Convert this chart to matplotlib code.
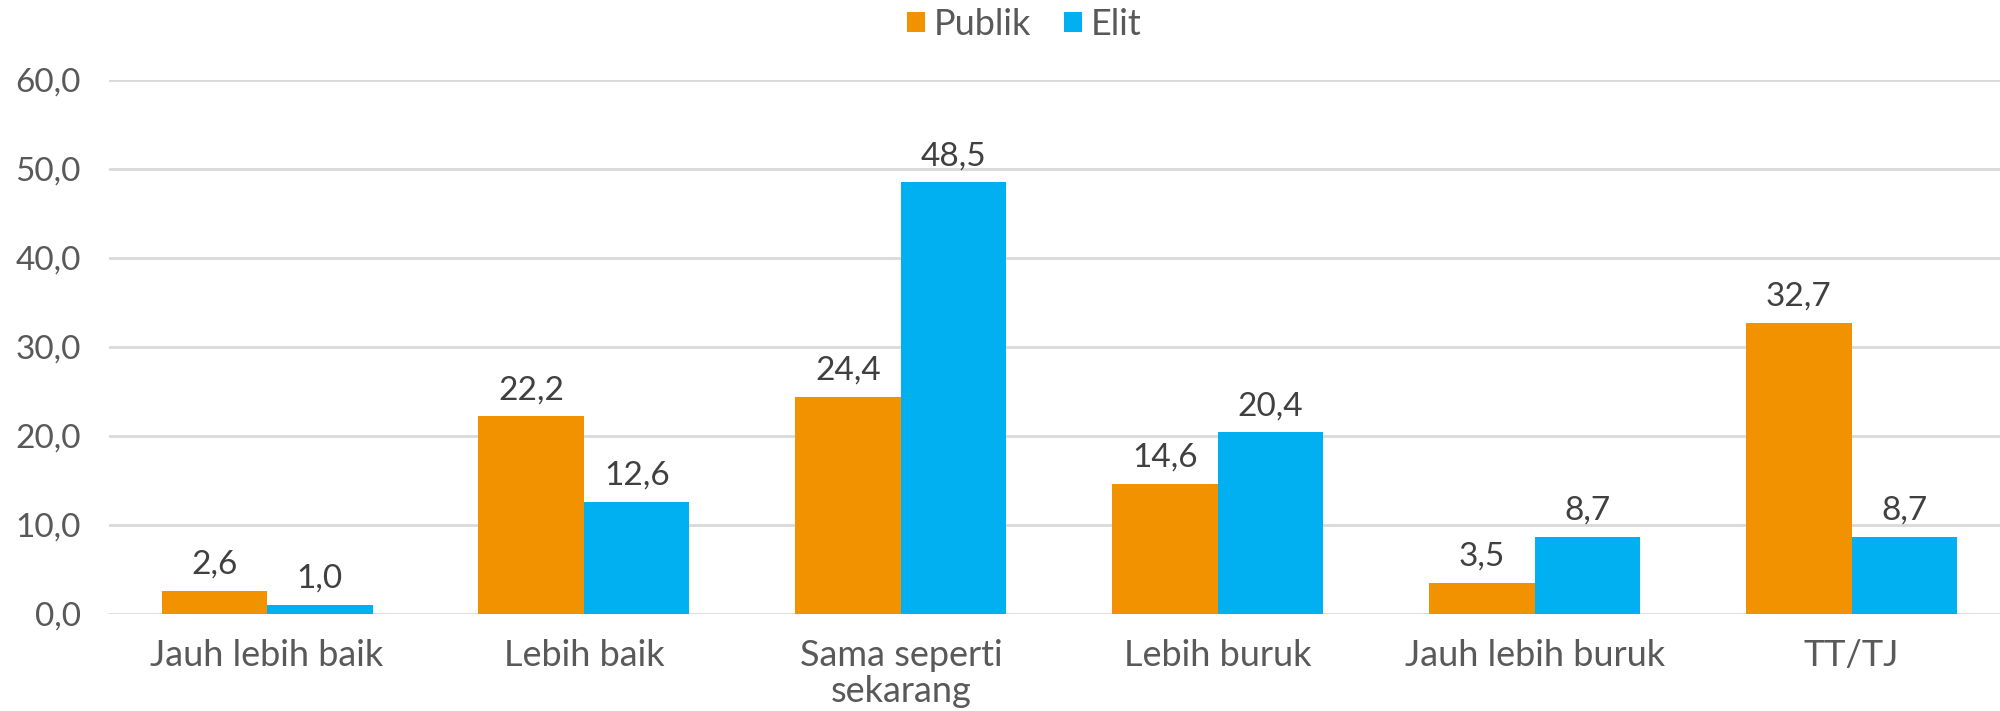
import matplotlib
matplotlib.use("Agg")
import matplotlib.pyplot as plt
import numpy as np

# Survey categories and percentages per respondent group
categories = ["Jauh lebih baik", "Lebih baik", "Sama seperti\nsekarang",
              "Lebih buruk", "Jauh lebih buruk", "TT/TJ"]
publik = [2.6, 22.2, 24.4, 14.6, 3.5, 32.7]
elit = [1.0, 12.6, 48.5, 20.4, 8.7, 8.7]
series_names = ["Publik", "Elit"]
y_ticks = [0, 10, 20, 30, 40, 50, 60]

ORANGE = "#F39200"
BLUE = "#00B0F0"
GRID = "#D9D9D9"
TEXT = "#595959"
LABEL = "#404040"
FS_NUM = 24
FS_TXT = 26

plt.rcParams["font.family"] = ["Lato", "DejaVu Sans"]

fig = plt.figure(figsize=(20, 7.11), dpi=100)
ax = fig.add_axes([0.0543, 0.1364, 0.9507, 0.7511])

x = np.arange(len(categories))
w = 0.333
bars_p = ax.bar(x - w / 2, publik, w, color=ORANGE, label=series_names[0], zorder=3)
bars_e = ax.bar(x + w / 2, elit, w, color=BLUE, label=series_names[1], zorder=3)

for bars, vals in ((bars_p, publik), (bars_e, elit)):
    for b, v in zip(bars, vals):
        ax.annotate(f"{v:.1f}".replace(".", ","),
                    (b.get_x() + b.get_width() / 2, v),
                    xytext=(0, 8), textcoords="offset points",
                    ha="center", va="bottom", fontsize=FS_NUM, color=LABEL)

ax.set_xlim(-0.5, len(categories) - 0.5)
ax.set_ylim(0, 60)
ax.set_yticks(y_ticks)
ax.set_yticklabels([f"{t:.1f}".replace(".", ",") for t in y_ticks])
ax.set_xticks(x)
ax.set_xticklabels(categories, linespacing=1.1)
ax.tick_params(axis="y", length=0, labelsize=FS_NUM, colors=TEXT, pad=20)
ax.tick_params(axis="x", length=0, labelsize=FS_TXT, colors=TEXT, pad=18)
ax.grid(axis="y", color=GRID, linewidth=2, zorder=0)
for s in ax.spines.values():
    s.set_visible(False)

fig.legend(loc="upper center", bbox_to_anchor=(0.512, 1.035), ncol=2, frameon=False,
           fontsize=FS_TXT, labelcolor=TEXT, handlelength=0.5, handleheight=0.5,
           handletextpad=0.25, columnspacing=0.9)

fig.savefig("out.png", dpi=100)
